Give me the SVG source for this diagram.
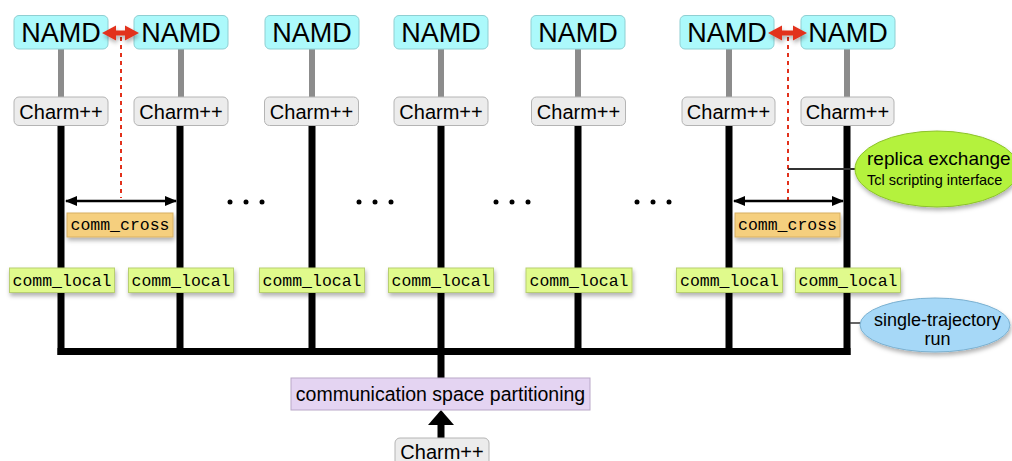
<svg xmlns="http://www.w3.org/2000/svg" width="1012" height="461" viewBox="0 0 1012 461">
<style>
.namd rect{fill:#acf9fb;stroke:#8fcfd2;stroke-width:1}
.namd text{font-family:"Liberation Sans",Arial,sans-serif;font-size:27px;fill:#000;text-anchor:middle}
.charm rect{fill:#ececec;stroke:#b4b4b4;stroke-width:1}
.charm text{font-family:"Liberation Sans",Arial,sans-serif;font-size:20px;fill:#000;text-anchor:middle}
.local rect{fill:#e0fa8c;stroke:#b8cf70;stroke-width:1;filter:url(#sh)}
.local text,.cross text{font-family:"Liberation Mono","Courier New",monospace;font-size:16.5px;fill:#000;text-anchor:middle}
.cross rect{fill:#f5cf7e;stroke:#d8b062;stroke-width:1;filter:url(#sh)}
.grey{stroke:#8c8c8c;stroke-width:6}
.blk{stroke:#000;stroke-width:7}
.sans{font-family:"Liberation Sans",Arial,sans-serif;fill:#000}
.red{fill:#e2311c;filter:url(#sh)}
</style>
<defs>
<filter id="sh" x="-20%" y="-30%" width="140%" height="180%">
<feDropShadow dx="1" dy="3" stdDeviation="2" flood-color="#000" flood-opacity="0.3"/>
</filter>
<marker id="ah" markerWidth="12" markerHeight="10" refX="11" refY="5" orient="auto-start-reverse" markerUnits="userSpaceOnUse">
<path d="M0,0 L12,5 L0,10 Z" fill="#000"/>
</marker>
</defs>

<g id="connectors">
<line class="grey" x1="61" y1="49" x2="61" y2="97"/>
<line class="grey" x1="181" y1="49" x2="181" y2="97"/>
<line class="grey" x1="312" y1="49" x2="312" y2="97"/>
<line class="grey" x1="441" y1="49" x2="441" y2="97"/>
<line class="grey" x1="578" y1="49" x2="578" y2="97"/>
<line class="grey" x1="729" y1="49" x2="729" y2="97"/>
<line class="grey" x1="847" y1="49" x2="847" y2="97"/>
<line class="blk" x1="61" y1="125" x2="61" y2="355"/>
<line class="blk" x1="180" y1="125" x2="180" y2="351"/>
<line class="blk" x1="312" y1="125" x2="312" y2="351"/>
<line class="blk" x1="441" y1="125" x2="441" y2="351"/>
<line class="blk" x1="578" y1="125" x2="578" y2="351"/>
<line class="blk" x1="729" y1="125" x2="729" y2="351"/>
<line class="blk" x1="847" y1="125" x2="847" y2="355"/>
<line class="blk" x1="57.5" y1="351.5" x2="850.5" y2="351.5"/>
<line class="blk" x1="441" y1="351" x2="441" y2="378"/>
<line class="blk" x1="441" y1="438" x2="441" y2="424"/>
<path d="M428,425 L454,425 L441,410 Z" fill="#000"/>
<line x1="121" y1="37" x2="121" y2="198" stroke="#e2311c" stroke-width="2" stroke-dasharray="4,4"/>
<line x1="788" y1="37" x2="788" y2="200" stroke="#e2311c" stroke-width="2" stroke-dasharray="4,4"/>
<line x1="66" y1="201" x2="176" y2="201" stroke="#000" stroke-width="2.5" marker-start="url(#ah)" marker-end="url(#ah)"/>
<line x1="734" y1="201" x2="843" y2="201" stroke="#000" stroke-width="2.5" marker-start="url(#ah)" marker-end="url(#ah)"/>
<line x1="788" y1="169" x2="857" y2="169" stroke="#333" stroke-width="2"/>
<line x1="850" y1="323" x2="861" y2="323" stroke="#333" stroke-width="1.5"/>
</g>

<g id="dots" fill="#000">
<circle cx="230" cy="202" r="2.5"/><circle cx="246" cy="202" r="2.5"/><circle cx="262" cy="202" r="2.5"/>
<circle cx="359" cy="202" r="2.5"/><circle cx="375" cy="202" r="2.5"/><circle cx="391" cy="202" r="2.5"/>
<circle cx="496" cy="202" r="2.5"/><circle cx="512" cy="202" r="2.5"/><circle cx="528" cy="202" r="2.5"/>
<circle cx="637" cy="202" r="2.5"/><circle cx="653" cy="202" r="2.5"/><circle cx="669" cy="202" r="2.5"/>
</g>

<g id="namd1" class="namd"><rect x="14" y="15.5" width="94" height="33.5" rx="5"/><text x="61" y="42">NAMD</text></g>
<g id="namd2" class="namd"><rect x="134" y="15.5" width="94" height="33.5" rx="5"/><text x="181" y="42">NAMD</text></g>
<g id="namd3" class="namd"><rect x="265" y="15.5" width="94" height="33.5" rx="5"/><text x="312" y="42">NAMD</text></g>
<g id="namd4" class="namd"><rect x="394" y="15.5" width="94" height="33.5" rx="5"/><text x="441" y="42">NAMD</text></g>
<g id="namd5" class="namd"><rect x="531" y="15.5" width="94" height="33.5" rx="5"/><text x="578" y="42">NAMD</text></g>
<g id="namd6" class="namd"><rect x="680" y="15.5" width="94" height="33.5" rx="5"/><text x="727" y="42">NAMD</text></g>
<g id="namd7" class="namd"><rect x="801" y="15.5" width="94" height="33.5" rx="5"/><text x="848" y="42">NAMD</text></g>

<g id="exchange-arrows">
<path class="red" d="M102,33 L116,25.5 L116,30.5 L125,30.5 L125,25.5 L139,33 L125,40.5 L125,35.5 L116,35.5 L116,40.5 Z"/>
<path class="red" d="M768,33 L782,25.5 L782,30.5 L793,30.5 L793,25.5 L807,33 L793,40.5 L793,35.5 L782,35.5 L782,40.5 Z"/>
</g>

<g id="charm1" class="charm"><rect x="14" y="97" width="94" height="28.5" rx="5"/><text x="61" y="118.5">Charm++</text></g>
<g id="charm2" class="charm"><rect x="134" y="97" width="94" height="28.5" rx="5"/><text x="181" y="118.5">Charm++</text></g>
<g id="charm3" class="charm"><rect x="264.5" y="97" width="94" height="28.5" rx="5"/><text x="311.5" y="118.5">Charm++</text></g>
<g id="charm4" class="charm"><rect x="394" y="97" width="94" height="28.5" rx="5"/><text x="441" y="118.5">Charm++</text></g>
<g id="charm5" class="charm"><rect x="531.5" y="97" width="94" height="28.5" rx="5"/><text x="578.5" y="118.5">Charm++</text></g>
<g id="charm6" class="charm"><rect x="682" y="97" width="93" height="28.5" rx="5"/><text x="728.5" y="118.5">Charm++</text></g>
<g id="charm7" class="charm"><rect x="801" y="97" width="93" height="28.5" rx="5"/><text x="847.5" y="118.5">Charm++</text></g>

<g id="cross1" class="cross"><rect x="67" y="213" width="106" height="24"/><text x="120" y="230">comm_cross</text></g>
<g id="cross2" class="cross"><rect x="735" y="213" width="105" height="24"/><text x="787.5" y="230">comm_cross</text></g>

<g id="local1" class="local"><rect x="9.5" y="268" width="105" height="24.5"/><text x="62" y="285.5">comm_local</text></g>
<g id="local2" class="local"><rect x="128.5" y="268" width="105" height="24.5"/><text x="181" y="285.5">comm_local</text></g>
<g id="local3" class="local"><rect x="259.5" y="268" width="105" height="24.5"/><text x="312" y="285.5">comm_local</text></g>
<g id="local4" class="local"><rect x="388.5" y="268" width="105" height="24.5"/><text x="441" y="285.5">comm_local</text></g>
<g id="local5" class="local"><rect x="526" y="268" width="106" height="24.5"/><text x="579" y="285.5">comm_local</text></g>
<g id="local6" class="local"><rect x="676.5" y="268" width="106" height="24.5"/><text x="729.5" y="285.5">comm_local</text></g>
<g id="local7" class="local"><rect x="795.5" y="268" width="105" height="24.5"/><text x="848" y="285.5">comm_local</text></g>

<g id="replica">
<ellipse cx="937" cy="169" rx="82" ry="38" fill="#b4f23c" stroke="#8cc22a" stroke-width="1" filter="url(#sh)"/>
<text class="sans" x="867" y="165" font-size="19">replica exchange</text>
<text class="sans" x="867" y="185" font-size="14.5">Tcl scripting interface</text>
</g>

<g id="single">
<ellipse cx="935" cy="325" rx="75" ry="27" fill="#a6d8f7" stroke="#7ab0d0" stroke-width="1" filter="url(#sh)"/>
<text class="sans" x="937.5" y="326" font-size="18" text-anchor="middle">single-trajectory</text>
<text class="sans" x="937.5" y="344.5" font-size="18" text-anchor="middle">run</text>
</g>

<g id="partition">
<rect x="291" y="378" width="299" height="32" fill="#e4d4f2" stroke="#b9a8c8" stroke-width="1"/>
<text class="sans" x="440.5" y="401" font-size="19.5" text-anchor="middle">communication space partitioning</text>
</g>

<g id="charm-base" class="charm"><rect x="395" y="438" width="94" height="32" rx="5"/><text x="442" y="458.5">Charm++</text></g>
</svg>
